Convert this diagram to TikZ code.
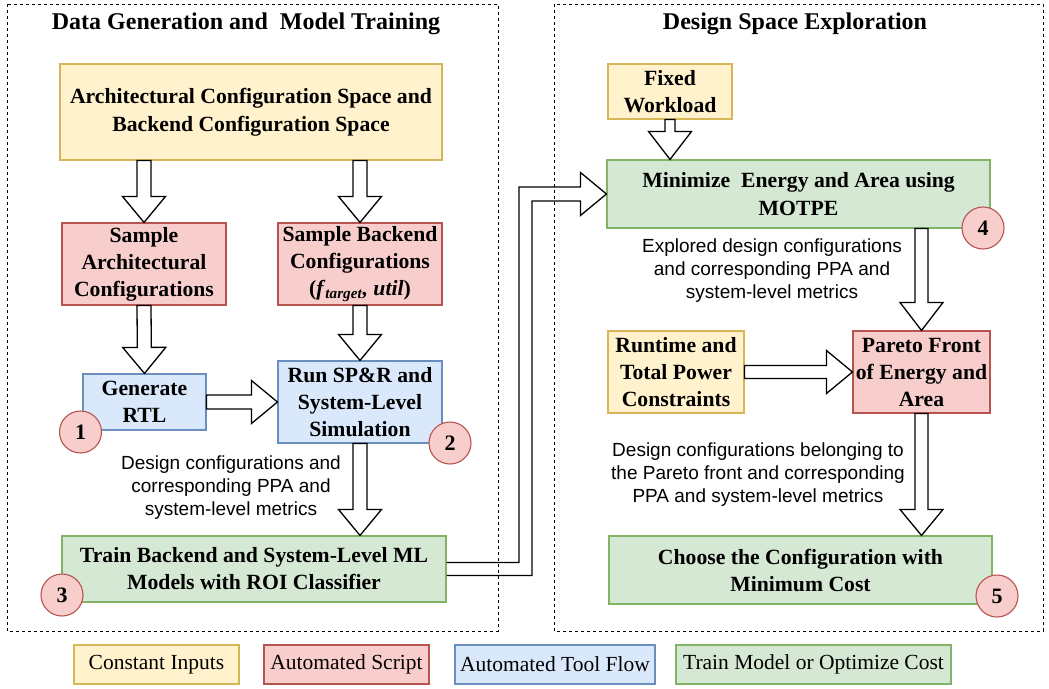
\documentclass[tikz,border=0pt]{standalone}
\usepackage{fontspec}
\setmainfont{Liberation Serif}
\setsansfont{Liberation Sans}
\usetikzlibrary{calc}

\definecolor{yfill}{HTML}{FFF2CC}\definecolor{ydraw}{HTML}{D6B656}
\definecolor{rfill}{HTML}{F8CECC}\definecolor{rdraw}{HTML}{B85450}
\definecolor{bfill}{HTML}{DAE8FC}\definecolor{bdraw}{HTML}{6C8EBF}
\definecolor{gfill}{HTML}{D5E8D4}\definecolor{gdraw}{HTML}{82B366}

% hollow block arrow from #2 to #3, shaft half-width #1
\def\headlen{26pt}
\def\headhalf{21.5pt}
\newcommand\blockarrow[3][7pt]{%
  \coordinate (ah) at ($(#3)!\headlen!(#2)$);
  \draw[blockline] ($(#2)!#1!90:(#3)$) -- ($(ah)!#1!90:(#3)$)
    -- ($(ah)!\headhalf!90:(#3)$) -- (#3)
    -- ($(ah)!\headhalf!-90:(#3)$) -- ($(ah)!#1!-90:(#3)$)
    -- ($(#2)!#1!-90:(#3)$) -- cycle;}

\begin{document}
\begin{tikzpicture}[x=1pt,y=-1pt,
  box/.style={draw,line width=1.1pt,inner sep=1pt,align=center,
    font=\fontsize{21.7}{27}\selectfont\bfseries},
  yel/.style={box,fill=yfill,draw=ydraw},
  red/.style={box,fill=rfill,draw=rdraw},
  blu/.style={box,fill=bfill,draw=bdraw},
  grn/.style={box,fill=gfill,draw=gdraw},
  badge/.style={circle,draw=rdraw,fill=rfill,line width=1.1pt,minimum size=42pt,
    inner sep=0pt,font=\fontsize{22}{26}\selectfont\bfseries},
  note/.style={align=center,font=\sffamily\fontsize{19}{23}\selectfont},
  title/.style={font=\fontsize{24}{29}\selectfont\bfseries},
  frame/.style={draw,line width=1pt,dash pattern=on 3pt off 3pt},
  blockline/.style={draw,fill=white,line width=1.3pt,line join=miter},
  legend/.style={draw,line width=1.1pt,minimum height=39pt,inner sep=1pt,
    font=\fontsize{21.5}{26}\selectfont},
]
\useasboundingbox (0,0) rectangle (1049,688);

% section frames and titles
\path[frame] (7,4) rectangle (498,631);
\path[frame] (554,4) rectangle (1043,631);
\node[title] (tleft) at (246,24) {Data Generation and~ Model Training};
\node[title] (tright) at (795,24) {Design Space Exploration};

% data generation and model training
\node[yel,minimum width=382pt,minimum height=96pt,font=\fontsize{21.7}{28}\selectfont\bfseries] (arch) at (251,112)
  {Architectural Configuration Space and\\Backend Configuration Space};
\node[red,minimum width=164pt,minimum height=82pt] (sarch) at (144,264)
  {Sample\\Architectural\\Configurations};
\node[red,minimum width=164pt,minimum height=82pt] (sback) at (360,264)
  {Sample Backend\\Configurations\\(\textit{f}\textsubscript{\textit{target}}\textit{, util})};
\node[blu,minimum width=123pt,minimum height=56pt] (rtl) at (144.5,402)
  {Generate\\RTL};
\node[blu,minimum width=164pt,minimum height=82pt] (run) at (360,402)
  {Run SP\&R and\\System-Level\\Simulation};
\node[grn,minimum width=384pt,minimum height=66pt] (train) at (254,569)
  {Train Backend and System-Level ML\\Models with ROI Classifier};
\node[note] (n1) at (231,488)
  {Design configurations and\\corresponding PPA and\\system-level metrics};

% design space exploration
\node[yel,minimum width=124pt,minimum height=55pt] (fixed) at (670,91.5)
  {Fixed\\Workload};
\node[grn,minimum width=383pt,minimum height=68pt,font=\fontsize{21.7}{28}\selectfont\bfseries] (mini) at (798.5,194)
  {Minimize~ Energy and Area using\\MOTPE};
\node[note] (n2) at (772,271)
  {Explored design configurations\\and corresponding PPA and\\system-level metrics};
\node[yel,minimum width=136pt,minimum height=82pt] (runtime) at (676,372)
  {Runtime and\\Total Power\\Constraints};
\node[red,minimum width=137pt,minimum height=82pt] (pareto) at (921.5,372)
  {Pareto Front\\of Energy and\\Area};
\node[note] (n3) at (758,475)
  {Design configurations belonging to\\the Pareto front and corresponding\\PPA and system-level metrics};
\node[grn,minimum width=383pt,minimum height=68pt] (choose) at (800.5,570)
  {Choose the Configuration with\\Minimum Cost};

% block arrows
\coordinate (a1) at (arch.south -| sarch.north);
\coordinate (a2) at (arch.south -| sback.north);
\coordinate (a3) at (train.north -| run.south);
\coordinate (a4) at (mini.south -| pareto.north);
\coordinate (a5) at (choose.north -| pareto.south);
\coordinate (a6) at (fixed.south |- mini.north);
\blockarrow{a1}{sarch.north}
\blockarrow{a2}{sback.north}
\blockarrow{sarch.south}{rtl.north}
\blockarrow{sback.south}{run.north}
\blockarrow{rtl.east}{run.west}
\blockarrow{run.south}{a3}
{\def\headlen{28pt}\blockarrow[5pt]{fixed.south}{a6}}
{\def\headlen{28pt}\blockarrow[6.5pt]{a4}{pareto.north}}
\blockarrow[6.5pt]{runtime.east}{pareto.west}
\blockarrow[6.5pt]{pareto.south}{a5}

% bent block arrow from training to exploration
\coordinate (cA) at ($(train.east)+(0,-6.5)$);
\coordinate (cB) at ($(train.east)+(0,6.5)$);
\coordinate (cC) at ($(mini.west)+(0,-7)$);
\coordinate (cD) at ($(mini.west)+(0,7)$);
\coordinate (hd) at ($(mini.west)+(-26,0)$);
\coordinate (kx1) at (519,0);
\coordinate (kx2) at (532,0);
\draw[line width=1.3pt,line join=miter] (cA) -- (kx1 |- cA) -- (kx1 |- cC) -- (hd |- cC)
  -- ($(hd)+(0,-21.5)$) -- (mini.west) -- ($(hd)+(0,21.5)$) -- (hd |- cD)
  -- (kx2 |- cD) -- (kx2 |- cB) -- (cB);

% step badges
\node[badge] (s1) at (80.5,432) {1};
\node[badge] (s2) at (450,443) {2};
\node[badge] (s3) at (62,595) {3};
\node[badge] (s4) at (983,228) {4};
\node[badge] (s5) at (997,596) {5};

% legend
\node[legend,fill=yfill,draw=ydraw,minimum width=165pt] (l1) at (156.5,664.5) {Constant Inputs};
\node[legend,fill=rfill,draw=rdraw,minimum width=165pt] (l2) at (346.5,664.5) {Automated Script};
\node[legend,fill=bfill,draw=bdraw,minimum width=200pt] (l3) at (555,664.5) {Automated Tool Flow};
\node[legend,fill=gfill,draw=gdraw,minimum width=275pt] (l4) at (813.5,664.5) {Train Model or Optimize Cost};
\end{tikzpicture}
\end{document}
